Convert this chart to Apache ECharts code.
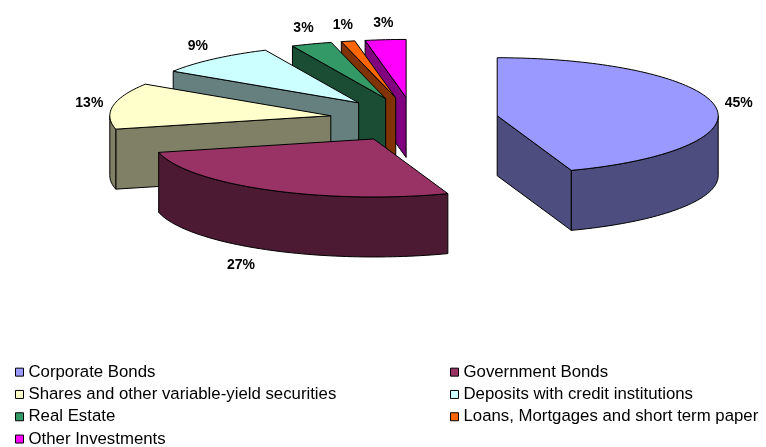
<!DOCTYPE html>
<html><head><meta charset="utf-8">
<script src="https://cdn.jsdelivr.net/npm/echarts@6/dist/echarts.min.js"></script>
<style>html,body{margin:0;padding:0;background:#fff}#c{width:766px;height:447px}</style>
</head><body><div id="c"></div>
<script>
// ---- data ----
const categories = [
  'Corporate Bonds',
  'Government Bonds',
  'Shares and other variable-yield securities',
  'Deposits with credit institutions',
  'Real Estate',
  'Loans, Mortgages and short term paper',
  'Other Investments'
];
const shares = [45, 27, 13, 9, 3, 1, 3];
const legendColumn1 = [0, 2, 4, 6];
const legendColumn2 = [1, 3, 5];

// ---- styles ----
const topColors  = ['#9999FF', '#993366', '#FFFFCC', '#CCFFFF', '#339966', '#FF6600', '#FF00FF'];
const sideColors = ['#4D4D80', '#4D1A33', '#808066', '#668080', '#1A4D33', '#803300', '#800080'];
const FONT = 'Liberation Sans, Arial, sans-serif';
const G = { cx: 414, cy: 119.5, rx: 221, ry: 58, h: 60, explode: 0.382 };

const total = shares.reduce((a, b) => a + b, 0);
const starts = [];
let acc = 0;
shares.forEach(v => { starts.push(acc / total * Math.PI * 2); acc += v; });
const mids = shares.map((v, i) => starts[i] + v / total * Math.PI);

// depth rank: farther (back) slices drawn first
const order = mids.map((m, i) => [Math.cos(m), i]).sort((a, b) => b[0] - a[0]).map(d => d[1]);
const zOf = {};
order.forEach((idx, r) => { zOf[idx] = 2 + r; });

function renderSlice(params, api) {
  const i = params.seriesIndex;
  const v = api.value(0);
  const a1 = starts[i];
  const a2 = a1 + v / total * Math.PI * 2;
  const mid = (a1 + a2) / 2;
  const ax = G.cx + G.rx * G.explode * Math.sin(mid);
  const ay = G.cy - G.ry * G.explode * Math.cos(mid);
  const P = (t, r, lv) => [ax + G.rx * r * Math.sin(t), ay - G.ry * r * Math.cos(t) + lv * G.h];
  const arc = (t1, t2, lv) => {
    const n = Math.max(2, Math.ceil(Math.abs(t2 - t1) / (Math.PI / 120)));
    const pts = [];
    for (let k = 0; k <= n; k++) pts.push(P(t1 + (t2 - t1) * k / n, 1, lv));
    return pts;
  };
  const stroke = { stroke: '#000', lineWidth: 1, lineJoin: 'round' };
  const children = [];
  if (Math.sin(a1) < -1e-9) {
    children.push({ type: 'polygon', shape: { points: [P(a1, 0, 0), P(a1, 1, 0), P(a1, 1, 1), P(a1, 0, 1)] },
      style: Object.assign({ fill: sideColors[i] }, stroke) });
  }
  if (Math.sin(a2) > 1e-9) {
    children.push({ type: 'polygon', shape: { points: [P(a2, 0, 0), P(a2, 1, 0), P(a2, 1, 1), P(a2, 0, 1)] },
      style: Object.assign({ fill: sideColors[i] }, stroke) });
  }
  const lo = Math.max(a1, Math.PI / 2), hi = Math.min(a2, Math.PI * 1.5);
  if (hi > lo) {
    const pts = arc(lo, hi, 0).concat(arc(hi, lo, 1));
    children.push({ type: 'polygon', shape: { points: pts }, style: Object.assign({ fill: sideColors[i] }, stroke) });
  }
  children.push({ type: 'polygon', shape: { points: [P(a1, 0, 0)].concat(arc(a1, a2, 0)) },
    style: Object.assign({ fill: topColors[i] }, stroke) });
  const front = Math.max(0, -Math.cos(mid));
  const lv = Math.cos(mid) < 0 ? 1 : 0;
  const anchor = P(mid, 1.05, lv);
  const lx = anchor[0] + G.rx * 0.17 * front * Math.sin(mid) + Math.sin(mid) * 13;
  const ly = anchor[1] - Math.cos(mid) * 14;
  children.push({ type: 'text', style: {
    text: v + '%', x: lx, y: ly,
    align: 'center', verticalAlign: 'middle', font: 'bold 14px ' + FONT, fill: '#000' } });
  return { type: 'group', children };
}

const series = categories.map((name, i) => ({
  type: 'custom', name, coordinateSystem: 'none', z: zOf[i],
  itemStyle: { color: topColors[i] },
  data: [[shares[i]]],
  renderItem: renderSlice,
  silent: true, animation: false
}));

const legendBase = {
  orient: 'vertical', top: 361, height: 100, padding: 0, itemWidth: 8, itemHeight: 8, itemGap: 0,
  icon: 'rect', selectedMode: false,
  itemStyle: { borderColor: '#000', borderWidth: 1 },
  textStyle: { fontFamily: FONT, fontSize: 16.8, color: '#000', lineHeight: 22.3 }
};

const chart = echarts.init(document.getElementById('c'), null, { renderer: 'canvas' });
chart.setOption({
  backgroundColor: '#fff',
  animation: false,
  legend: [
    Object.assign({}, legendBase, { left: 15, data: legendColumn1.map(i => categories[i]) }),
    Object.assign({}, legendBase, { left: 450, data: legendColumn2.map(i => categories[i]) })
  ],
  series
});
</script></body></html>
